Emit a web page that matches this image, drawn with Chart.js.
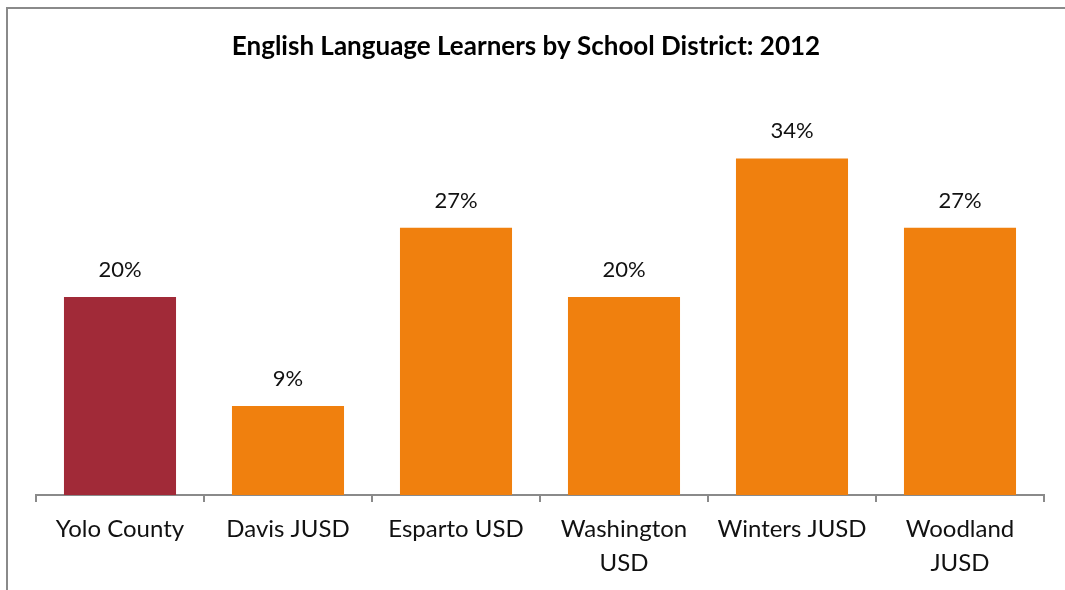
<!DOCTYPE html>
<html>
<head>
<meta charset="utf-8">
<script src="https://cdn.jsdelivr.net/npm/chart.js@4/dist/chart.umd.min.js"></script>
<style>
  html, body { margin: 0; padding: 0; background: #fff; }
  #wrap { position: relative; width: 1065px; height: 590px; }
  #frame { position: absolute; left: 6px; top: 7px; right: 0; bottom: 0;
           border-left: 2px solid #8a8a8a; border-top: 2px solid #8a8a8a; }
  canvas { position: absolute; left: 0; top: 0; }
</style>
</head>
<body>
<div id="wrap">
  <div id="frame"></div>
  <canvas id="chart" width="1065" height="590"></canvas>
</div>
<script>
const districts = ['Yolo County', 'Davis JUSD', 'Esparto USD', ['Washington', 'USD'], 'Winters JUSD', ['Woodland', 'JUSD']];
const ellShare = [20, 9, 27, 20, 34, 27];
const barColors = ['#a12a38', '#f0800e', '#f0800e', '#f0800e', '#f0800e', '#f0800e'];
const chartTitle = 'English Language Learners by School District: 2012';

const FONT = 'Lato, "Open Sans", sans-serif';

// percent labels above the bars + title (centred on the frame, not the plot)
const barLabels = {
  id: 'barLabels',
  afterDatasetsDraw(chart) {
    const ctx = chart.ctx;
    const meta = chart.getDatasetMeta(0);
    ctx.save();
    ctx.font = '22px ' + FONT;
    ctx.fillStyle = '#111';
    ctx.textAlign = 'center';
    ctx.textBaseline = 'middle';
    meta.data.forEach(function(bar, i) {
      ctx.fillText(ellShare[i] + '%', bar.x, bar.y - 27);
    });
    ctx.font = 'bold 26px ' + FONT;
    ctx.fillStyle = '#000';
    ctx.fillText(chartTitle, 526, 47);
    ctx.restore();
  }
};

function newChart(id) {
  const ctx = document.getElementById(id).getContext('2d');
  return new Chart(ctx, {
    type: 'bar',
    data: {
      labels: districts,
      datasets: [{
        data: ellShare,
        backgroundColor: barColors,
        categoryPercentage: 0.667,
        barPercentage: 1.0
      }]
    },
    options: {
      responsive: false,
      animation: false,
      layout: { padding: { left: 36, right: 21, top: 99, bottom: 0 } },
      scales: {
        x: {
          grid: { display: true, drawOnChartArea: false, offset: true, tickLength: 7, color: '#8a8a8a', lineWidth: 2 },
          border: { color: '#8a8a8a', width: 2 },
          ticks: { color: '#111', padding: 10, maxRotation: 0, autoSkip: false,
                   font: { family: FONT, size: 24, lineHeight: 1.417 } }
        },
        y: {
          display: false,
          min: 0,
          max: 40
        }
      },
      plugins: {
        legend: { display: false },
        tooltip: { enabled: false },
        title: { display: false }
      }
    },
    plugins: [barLabels]
  });
}

newChart('chart');
</script>
</body>
</html>
